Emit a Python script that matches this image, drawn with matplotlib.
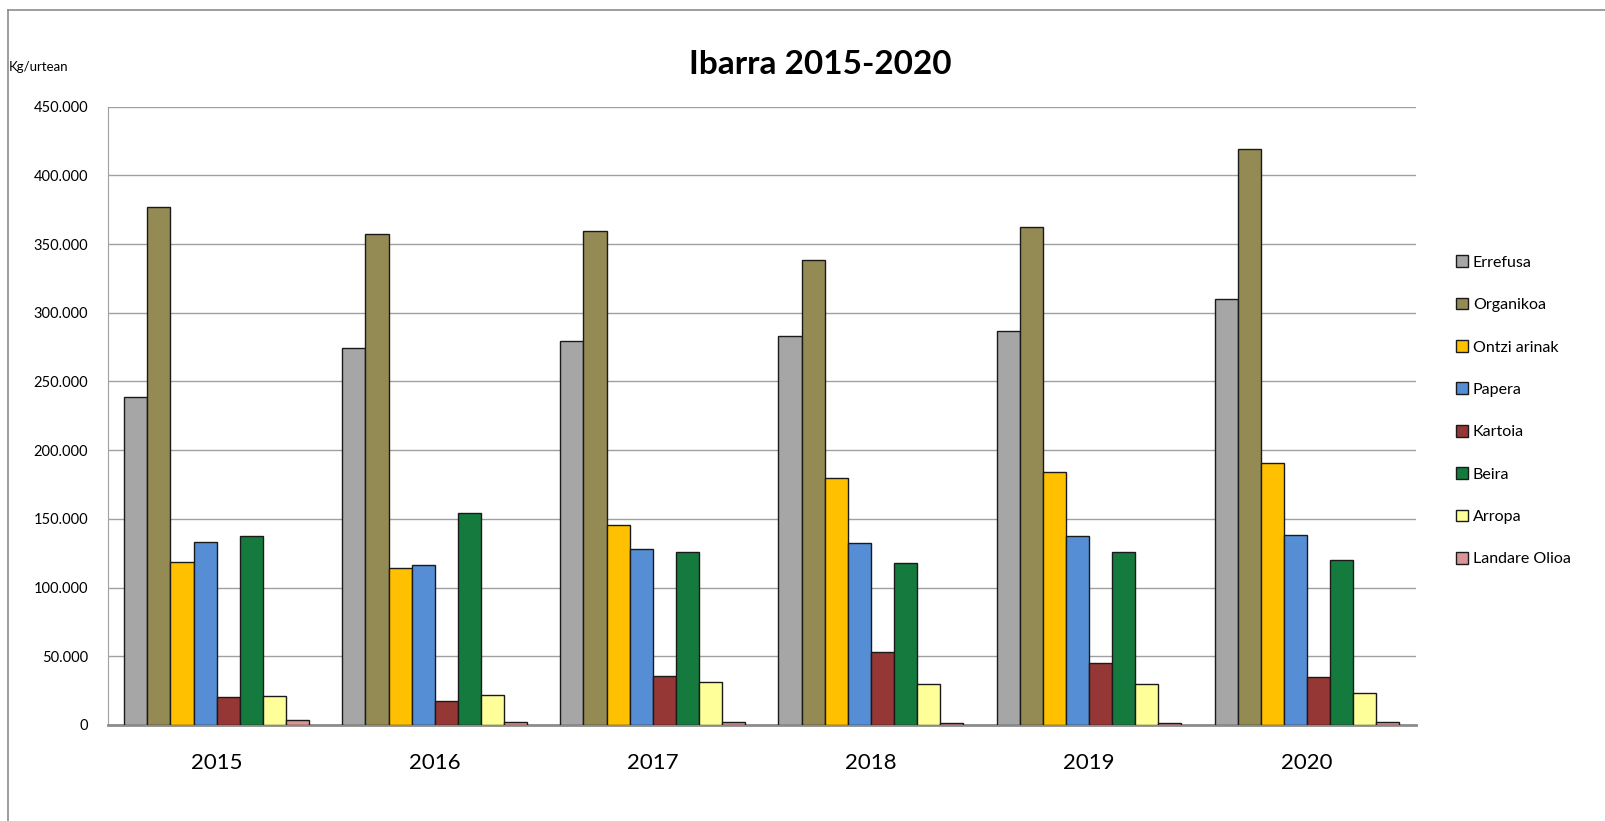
import numpy as np
import matplotlib.pyplot as plt
from matplotlib.ticker import FuncFormatter, MultipleLocator

plt.rcParams['font.family'] = ['Lato', 'DejaVu Sans']

years = ['2015', '2016', '2017', '2018', '2019', '2020']
series_names = ['Errefusa', 'Organikoa', 'Ontzi arinak', 'Papera',
                'Kartoia', 'Beira', 'Arropa', 'Landare Olioa']
colors = ['#A6A6A6', '#948A54', '#FFC000', '#558ED5',
          '#953735', '#157A3E', '#FFFF99', '#D99694']

# kg per year
errefusa = [238400, 274100, 279200, 283000, 286500, 310100]
organikoa = [376800, 357100, 359500, 338400, 362200, 419000]
ontzi_arinak = [118900, 114600, 145700, 180000, 184300, 190500]
papera = [133500, 116500, 128400, 132700, 137800, 138300]
kartoia = [20300, 17300, 35700, 53000, 44900, 35200]
beira = [137800, 154600, 125700, 117600, 126000, 120300]
arropa = [21100, 21600, 31100, 29500, 29700, 23500]
landare_olioa = [3500, 2400, 1900, 1600, 1600, 1800]

all_series = [errefusa, organikoa, ontzi_arinak, papera,
              kartoia, beira, arropa, landare_olioa]

fig = plt.figure(figsize=(16.05, 8.21), dpi=100)
ax = fig.add_axes([0.067, 0.117, 0.815, 0.753])

x = np.arange(len(years))
w = 0.1056
n = len(all_series)
for i, (vals, name, c) in enumerate(zip(all_series, series_names, colors)):
    ax.bar(x + (i - (n - 1) / 2) * w, vals, w, color=c, edgecolor='#1a1a1a',
           linewidth=1.0, label=name, zorder=3)

ax.set_xlim(-0.5, len(years) - 0.5)
ax.set_ylim(0, 450000)
ax.yaxis.set_major_locator(MultipleLocator(50000))
ax.yaxis.set_major_formatter(FuncFormatter(lambda v, p: f'{int(v):,}'.replace(',', '.')))
ax.set_xticks(x)
ax.set_xticklabels(years, fontsize=16)
ax.tick_params(axis='x', length=0, pad=20)
ax.tick_params(axis='y', length=0, labelsize=10.5, pad=14)
ax.grid(axis='y', color='#a0a0a0', linewidth=1.0, zorder=0)
for s in ['top', 'right']:
    ax.spines[s].set_visible(False)
ax.spines['left'].set_color('#a0a0a0')
ax.spines['bottom'].set_color('#8c8c8c')
ax.spines['bottom'].set_linewidth(2)

fig.text(0.511, 0.922, 'Ibarra 2015-2020', ha='center', va='center',
         fontsize=24, fontweight='bold')
fig.text(0.0055, 0.918, 'Kg/urtean', ha='left', va='center', fontsize=9.5)

ax.legend(loc='center left', bbox_to_anchor=(1.02, 0.508), frameon=False,
          fontsize=11.5, handlelength=0.75, handleheight=0.75,
          handletextpad=0.3, labelspacing=1.75)

# outer chart border
fig.add_artist(plt.Line2D([0.005, 1.0], [0.988, 0.988], color='#8c8c8c', linewidth=1.2))
fig.add_artist(plt.Line2D([0.005, 0.005], [0.0, 0.988], color='#8c8c8c', linewidth=1.2))

fig.savefig('out.png', dpi=100)
